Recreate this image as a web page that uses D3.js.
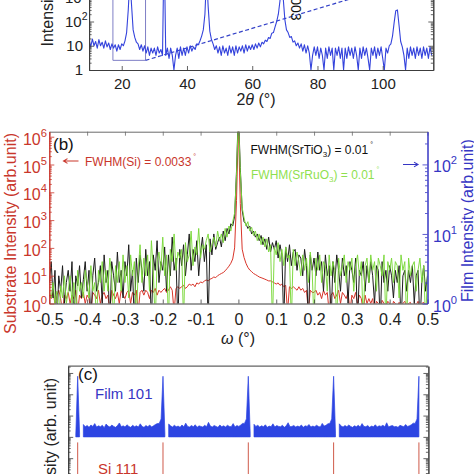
<!DOCTYPE html>
<html>
<head>
<meta charset="utf-8">
<script src="https://cdn.jsdelivr.net/npm/d3@7/dist/d3.min.js"></script>
<style>
  html, body { margin: 0; padding: 0; background: #ffffff; }
  svg { display: block; }
  text { font-family: "Liberation Sans", Arial, Helvetica, sans-serif; }
</style>
</head>
<body>
<script>
// ===================== DATA =====================
// ---- Panel (a): 2theta scan, sampled every 0.5 deg from 10 to 115 ----
const aTwoTheta = d3.range(10, 115.001, 0.5);
const aIntensity = [
  17, 9, 19, 10, 15, 8, 18, 10, 14, 8,
  16, 9, 13, 7, 12, 8, 11, 6, 11, 7,
  12, 10, 16, 35, 300, 6000, 500, 45, 22, 14,
  12, 7, 11, 6, 10, 5, 9, 4, 8, 5,
  8, 4, 9, 5, 7, 4, 200000, 4, 8, 3,
  8, 4, 1, 4, 8, 3, 9, 4, 8, 4,
  9, 5, 10, 6, 9, 7, 12, 11, 16, 25,
  45, 200, 8000, 400, 40, 18, 12, 7, 10, 5,
  9, 4, 10, 5, 8, 4, 10, 5, 9, 4,
  10, 5, 9, 6, 10, 5, 11, 6, 10, 7,
  11, 7, 12, 8, 13, 9, 14, 12, 17, 15,
  22, 20, 33, 35, 60, 100, 200, 700, 5000, 900,
  120, 45, 35, 22, 24, 14, 16, 10, 13, 8,
  12, 6, 11, 5, 10, 5, 1, 4, 9, 4,
  9, 3, 8, 4, 1, 8, 3, 9, 4, 8,
  1, 8, 4, 9, 3, 8, 1, 8, 3, 9,
  4, 8, 3, 9, 4, 1, 8, 3, 9, 4,
  8, 3, 1, 8, 4, 9, 3, 8, 4, 9,
  3, 1, 8, 5, 10, 12, 25, 90, 280, 300,
  70, 15, 9, 4, 1, 8, 3, 9, 4, 8,
  3, 9, 4, 8, 3, 9, 4, 8, 3, 9, 4
];
const aXTicks = [20, 40, 60, 80, 100];
const aYTickExp = [0, 1, 2, 3];
const aInsetBoxX = [17.3, 17.3, 27.3, 27.3];
const aInsetBoxY = [100000, 2.5, 2.5, 100000];
const aDashX = [27.3, 100];
const aDashY = [2.5, 2150];
const aPeakLabel = "003";
const aPeakLabelPos = [71.9, 1000];

// ---- Panel (b): omega rocking curves, sampled every 0.005 deg ----
const bOmega = d3.range(-0.5, 0.5001, 0.005);
const bSi = [
  2, 1.5, 2.5, 1, 2, 3, 1.5, 0.5, 2, 1.5,
  2.5, 1, 2, 1.5, 3, 0.5, 2, 1.5, 2.5, 1,
  2, 1.5, 0.5, 2.5, 2, 1.5, 3, 1, 2, 2.5,
  1.5, 2, 0.5, 3, 2, 1.5, 2.5, 1, 3, 2,
  1.5, 2.5, 3, 1, 2.5, 2, 3, 0.5, 2.5, 3,
  2, 3, 2.5, 1.5, 3, 2.5, 3.5, 2, 3, 2.5,
  3, 3.5, 2.5, 3, 4, 3, 0.5, 3.5, 4, 3.5,
  4, 4.5, 3.5, 4, 5, 4.5, 5, 4, 5.5, 5,
  6, 5.5, 6.5, 7, 6.5, 7.5, 8, 9, 8.5, 10,
  11, 12, 13, 15, 18, 22, 28, 40, 100, 5000,
  3000000,
  4000, 90, 45, 28, 20, 16, 14, 12, 11, 10,
  9, 8.5, 8, 7.5, 7, 6.5, 6.5, 6, 5.5,
  5, 5.5, 4.5, 5, 4, 4.5, 0.5, 4, 3.5, 4,
  3.5, 3, 4, 3, 3.5, 2.5, 3, 0.5, 3, 2.5,
  2.5, 3, 2, 2.5, 1.5, 3, 2, 2.5, 0.5, 2,
  2.5, 1.5, 2, 3, 1, 2.5, 2, 1.5, 2.5, 0.5,
  2, 1.5, 2.5, 1, 2, 1.5, 0.5, 2, 1, 1.5,
  1, 1.5, 0.5, 1.2, 1, 0.5, 1.3, 1, 0.8, 1.2,
  1, 0.5, 1.2, 1, 0.8, 1.1, 0.5, 1, 1.2, 0.8,
  1, 1.1, 0.5, 1, 0.9, 1.2, 0.5, 1, 1.1, 0.8, 1
];
const bSrTiO3 = [
  2, 4, 1.2, 3, 0.5, 2.5, 1.5, 3.5, 1, 2,
  3, 1.5, 4, 0.5, 2.5, 1.8, 3.5, 1.2, 2.2, 4,
  1.5, 3, 0.5, 2.5, 4.5, 1.5, 2, 3.5, 1, 5,
  2, 3, 0.5, 4, 2.5, 1.5, 5.5, 2, 3, 1.2,
  4, 2.5, 7, 1.5, 3, 0.5, 4.5, 2, 5, 3,
  1.5, 6, 2.5, 4, 0.5, 5, 3, 8, 2, 4,
  3, 6.5, 1.5, 5, 2.5, 9, 3, 4.5, 0.5, 6,
  3.5, 7, 2.5, 5, 10, 3, 6, 4, 8, 2.5,
  5.5, 9, 4, 7, 0.5, 8.5, 5, 10, 6, 7.5,
  9, 6.5, 11, 8, 12, 10, 14, 13, 18, 80,
  600,
  90, 22, 15, 14, 12, 13, 10, 11, 9, 10,
  8, 9.5, 7, 8.5, 6, 9, 5.5, 7.5, 6,
  8, 4.5, 7, 5, 0.5, 6.5, 4, 7, 3.5, 5.5,
  6, 3, 5, 4.5, 2.5, 6, 3.5, 0.5, 5, 3,
  4.5, 2.5, 5.5, 3, 4, 1.5, 5, 2.5, 3.5, 0.5,
  4, 2, 5, 3, 1.5, 4.5, 2.5, 3.5, 1, 4,
  3, 2, 4.5, 0.5, 3, 2.5, 4, 1.5, 3.5, 2,
  4, 2.5, 1, 3.5, 3, 0.5, 4, 2, 3, 1.5,
  3.5, 2.5, 1.2, 3, 2, 3.5, 0.5, 2.5, 3, 1.5,
  3, 2, 3.5, 1, 2.5, 3, 0.5, 2, 3.5, 1.5, 2.5
];
const bSrRuO3 = [
  1.5, 1.2, 2, 1, 1.5, 0.5, 1.8, 1.2, 2.5, 1,
  1.5, 2.5, 1, 2, 0.5, 3, 1.5, 2, 1.2, 3,
  2, 1.2, 3.5, 1.5, 2, 0.5, 3, 2, 4, 1.5,
  3, 1.5, 4.5, 2.5, 0.5, 3.5, 2, 4, 1.5, 5,
  2, 3.5, 1.2, 5, 2.5, 4, 0.5, 3, 7, 2,
  4.5, 2.5, 5, 1.5, 8, 3, 0.5, 4, 5.5, 3,
  9, 2.5, 5, 0.5, 6, 4, 10, 3, 5.5, 4.5,
  6, 0.5, 7.5, 4, 5, 11, 3.5, 6.5, 5, 12,
  4.5, 7, 6, 8, 10, 5.5, 7, 9, 6.5, 11,
  8, 10, 7.5, 12, 9, 13, 11, 15, 20, 70,
  500,
  80, 24, 17, 13, 15, 11, 12.5, 9.5, 11, 8,
  10, 7, 9, 6.5, 8.5, 5.5, 7, 0.5, 6.5,
  5, 7.5, 4, 6, 3.5, 6.5, 4.5, 5, 0.5, 6,
  3.5, 5.5, 4, 2.5, 5, 3, 4.5, 2, 5.5, 3,
  0.5, 4.5, 3, 5, 2, 4, 3.5, 1.5, 5, 2.5,
  4, 3, 0.5, 4.5, 2.5, 3.5, 5, 2, 4, 3,
  4.5, 1.5, 3.5, 5, 2.5, 4, 0.5, 3.5, 4.5, 2,
  5, 3, 4, 1.5, 4.5, 3.5, 2.5, 5, 0.5, 4,
  3, 4.5, 2, 4, 3.5, 1.2, 5, 3, 4, 0.5,
  4.5, 2.5, 3.5, 4, 1.5, 3, 4.5, 2, 3.5, 0.5, 3
];
const bXTicks = [-0.5, -0.4, -0.3, -0.2, -0.1, 0, 0.1, 0.2, 0.3, 0.4, 0.5];
const bLeftExp = [0, 1, 2, 3, 4, 5, 6];
const bRightExp = [0, 1, 2];

// ---- Panel (c): phi scans, sampled every 2 deg ----
const cPhi = d3.range(-2, 361, 2);
const cFilm101 = [
  120, 70000, 150, null,
  380, 300, 340, 280, 360, 310, 420, 290, 330, 300, 350, 270, 400, 320, 290, 360, 310, 280, 340, 450,
  300, 330, 290, 370, 310, 280, 350, 300, 330, 290, 410, 310, 280, 340, 300, 360, 290, 330, 380, 420,
  430, 700,
  70000, 150, null,
  400, 330, 290, 350, 300, 320, 280, 360, 300, 440, 310, 290, 340, 300, 370, 280, 330, 310, 290, 350,
  300, 480, 320, 290, 340, 310, 280, 360, 300, 330, 290, 350, 310, 300, 420, 290, 340, 310, 360, 430,
  430, 700,
  70000, 150, null,
  390, 310, 350, 290, 330, 300, 370, 280, 320, 300, 410, 290, 340, 310, 300, 350, 280, 330, 460, 300,
  310, 340, 290, 320, 300, 360, 280, 330, 310, 380, 290, 320, 300, 350, 310, 290, 430, 320, 350, 410,
  430, 700,
  70000, 150, null,
  410, 320, 290, 340, 300, 360, 310, 280, 330, 300, 350, 290, 420, 310, 300, 340, 280, 320, 300, 370,
  290, 330, 310, 350, 300, 460, 290, 320, 340, 300, 310, 280, 350, 320, 300, 380, 310, 330, 370, 440,
  430, 700,
  70000
];
const cFilmFloor = 100;
const cSiPhi = [0, 90, 180, 270, 360];
const cSiPeak = [55, 55, 55, 55, 55];
const cSiFloor = 0.01;

// ===================== STYLE =====================
const AXIS = "#3c3c3c";
const RED = "#c9362b";
const BLUE = "#3636c4";
const GREENTXT = "#8fdf4f";
const GREEN = "#7ad83a";
const BLACKD = "#1c1c1c";
const ABLUE = "#3443dc";

const svg = d3.select("body").append("svg").attr("width", 474).attr("height", 474);
const defs = svg.append("defs");
function clip(id, x0, y0, x1, y1) {
  defs.append("clipPath").attr("id", id).append("rect")
    .attr("x", x0).attr("y", y0).attr("width", x1 - x0).attr("height", y1 - y0);
}
function isMajor(v) { const l = Math.log10(v); return Math.abs(l - Math.round(l)) < 1e-9; }
function styleAxis(g, color) {
  g.selectAll("path.domain").attr("stroke", color).attr("stroke-width", 1);
  g.selectAll(".tick line").attr("stroke", color).attr("stroke-width", 0.8);
}
function logAxis(gen, scale, x, y, color, majorLen, minorLen) {
  const vals = scale.ticks();
  const gMin = svg.append("g").attr("transform", `translate(${x},${y})`)
    .call(gen(scale).tickValues(vals.filter(v => !isMajor(v))).tickSize(-minorLen).tickSizeOuter(0).tickFormat(""));
  styleAxis(gMin, color);
  const gMaj = svg.append("g").attr("transform", `translate(${x},${y})`)
    .call(gen(scale).tickValues(vals.filter(isMajor)).tickSize(-majorLen).tickSizeOuter(0).tickFormat(""));
  styleAxis(gMaj, color);
}
function powLabel(parent, x, y, exp, size, color, anchor, supShift) {
  const t = parent.append("text").attr("x", x).attr("y", y).attr("font-size", size)
    .attr("fill", color).attr("text-anchor", anchor);
  if (exp === 0 && supShift === null) { t.text("1"); return t; }
  if (exp === 1 && supShift === null) { t.text("10"); return t; }
  t.append("tspan").text("10");
  t.append("tspan").attr("font-size", size * 0.7).attr("dy", -(supShift || 8)).text(String(exp));
  return t;
}

// ===================== PANEL (a) =====================
const xA = d3.scaleLinear().domain([10, 115.5]).range([89.1, 433.3]);
const yA = d3.scaleLog().domain([1, 31623]).range([70, 70 - 4.5 * 24.25]);
clip("clipA", 89.1, -120, 433.3, 70);

const gA = svg.append("g");
const gAc = gA.append("g").attr("clip-path", "url(#clipA)");
gAc.append("path")
  .attr("d", d3.line().x(d => xA(d[0])).y(d => yA(d[1]))(aInsetBoxX.map((v, i) => [v, aInsetBoxY[i]])))
  .attr("fill", "none").attr("stroke", "#7f7fc6").attr("stroke-width", 1);
gAc.append("path")
  .attr("d", d3.line().x(d => xA(d[0])).y(d => yA(d[1]))(aDashX.map((v, i) => [v, aDashY[i]])))
  .attr("fill", "none").attr("stroke", "#3442c8").attr("stroke-width", 1.2).attr("stroke-dasharray", "4,2.5");
gAc.append("path")
  .attr("d", d3.line().x((d, i) => xA(aTwoTheta[i])).y(d => yA(d))(aIntensity))
  .attr("fill", "none").attr("stroke", ABLUE).attr("stroke-width", 1.1).attr("stroke-linejoin", "round");

const gAx = svg.append("g").attr("transform", "translate(0,70)")
  .call(d3.axisBottom(xA).tickValues(aXTicks).tickSize(-4).tickSizeOuter(0).tickPadding(8.5).tickFormat(d3.format("d")));
styleAxis(gAx, AXIS);
gAx.selectAll("text").attr("font-size", 15).attr("fill", "#222").attr("font-family", "Liberation Sans, Arial, sans-serif");
logAxis(d3.axisLeft, yA, 89.1, 0, AXIS, 5, 2.5);
logAxis(d3.axisRight, yA, 433.3, 0, AXIS, 5, 2.5);
aYTickExp.forEach(e => {
  const v = Math.pow(10, e);
  if (e === 0) powLabel(gA, 83, yA(v) + 5.3, 0, 15, "#222", "end", null);
  else if (e === 1) powLabel(gA, 83, yA(v) + 5.3, 1, 15, "#222", "end", null);
  else powLabel(gA, 87.5, yA(v) + 5.3, e, 15, "#222", "end", 7);
});
gA.append("text")
  .attr("transform", `translate(${xA(aPeakLabelPos[0])},${yA(aPeakLabelPos[1])}) rotate(90)`)
  .attr("font-size", 14).attr("fill", "#111").attr("text-anchor", "start").text(aPeakLabel);
const aXt = gA.append("text").attr("x", 256).attr("y", 105).attr("font-size", 16)
  .attr("fill", "#222").attr("text-anchor", "middle");
aXt.append("tspan").text("2");
aXt.append("tspan").attr("font-style", "italic").text("θ");
aXt.append("tspan").text(" (°)");
gA.append("text").attr("transform", "translate(53,46.5) rotate(-90)")
  .attr("font-size", 16).attr("fill", "#222").attr("text-anchor", "start").text("Intensity (arb. unit)");

// ===================== PANEL (b) =====================
const xB = d3.scaleLinear().domain([-0.5, 0.5]).range([49.3, 427.5]);
const yBL = d3.scaleLog().domain([1, Math.pow(10, 6.18)]).range([303.5, 131.7]);
const yBR = d3.scaleLog().domain([1, Math.pow(10, 2.47)]).range([303.5, 131.7]);
clip("clipB", 49.3, 131.7, 427.5, 303.5);
const gB = svg.append("g");
const gBc = gB.append("g").attr("clip-path", "url(#clipB)");
gBc.append("path")
  .attr("d", d3.line().x((d, i) => xB(bOmega[i])).y(d => yBL(d))(bSi))
  .attr("fill", "none").attr("stroke", "#d8352a").attr("stroke-width", 1).attr("stroke-linejoin", "round");
gBc.append("path")
  .attr("d", d3.line().x((d, i) => xB(bOmega[i])).y(d => yBR(d))(bSrTiO3))
  .attr("fill", "none").attr("stroke", BLACKD).attr("stroke-width", 1).attr("stroke-linejoin", "round");
gBc.append("path")
  .attr("d", d3.line().x((d, i) => xB(bOmega[i])).y(d => yBR(d))(bSrRuO3))
  .attr("fill", "none").attr("stroke", GREEN).attr("stroke-width", 1).attr("stroke-linejoin", "round").attr("opacity", 0.95);

const gBx = svg.append("g").attr("transform", "translate(0,303.5)")
  .call(d3.axisBottom(xB).tickValues(bXTicks).tickSize(-4).tickSizeOuter(0).tickPadding(10.1)
    .tickFormat(d => d === 0 ? "0" : d.toFixed(1)));
styleAxis(gBx, AXIS);
gBx.selectAll("text").attr("font-size", 16).attr("fill", "#222").attr("font-family", "Liberation Sans, Arial, sans-serif");
const gBt = svg.append("g").attr("transform", "translate(0,131.7)")
  .call(d3.axisTop(xB).tickValues(bXTicks).tickSize(-4).tickSizeOuter(0).tickFormat(""));
styleAxis(gBt, "#6a6a6a");
logAxis(d3.axisLeft, yBL, 49.3, 0, RED, 5, 2.5);
logAxis(d3.axisRight, yBR, 427.5, 0, BLUE, 5, 2.5);
bLeftExp.forEach(e => powLabel(gB, 47, yBL(Math.pow(10, e)) + 8, e, 16, RED, "end", 8));
bRightExp.forEach(e => powLabel(gB, 433, yBR(Math.pow(10, e)) + 8, e, 16, BLUE, "start", 8));
gB.append("text").attr("transform", "translate(16,334) rotate(-90)")
  .attr("font-size", 16).attr("fill", RED).attr("text-anchor", "start").text("Substrate Intensity (arb.unit)");
gB.append("text").attr("transform", "translate(473,302) rotate(-90)")
  .attr("font-size", 16).attr("fill", BLUE).attr("text-anchor", "start").text("Film Intensity (arb.unit)");
const bXt = gB.append("text").attr("x", 238).attr("y", 344).attr("font-size", 16)
  .attr("fill", "#222").attr("text-anchor", "middle");
bXt.append("tspan").attr("font-style", "italic").text("ω");
bXt.append("tspan").text(" (°)");
gB.append("text").attr("x", 53).attr("y", 150).attr("font-size", 17).attr("fill", "#111").text("(b)");
gB.append("path").attr("d", "M78.5,161 L63.5,161 M67.5,158.6 L63.5,161 L67.5,163.4")
  .attr("stroke", RED).attr("stroke-width", 1.1).attr("fill", "none");
const t1 = gB.append("text").attr("x", 85).attr("y", 166).attr("font-size", 12).attr("fill", RED);
t1.append("tspan").text("FWHM(Si) = 0.0033");
t1.append("tspan").attr("font-size", 7).attr("dy", -7).attr("dx", 2).text("°");
const t2 = gB.append("text").attr("x", 250.5).attr("y", 154).attr("font-size", 12).attr("fill", "#111");
t2.append("tspan").text("FWHM(SrTiO");
t2.append("tspan").attr("font-size", 8).attr("dy", 3).text("3");
t2.append("tspan").attr("dy", -3).text(") = 0.01");
t2.append("tspan").attr("font-size", 7).attr("dy", -7).attr("dx", 2).text("°");
const t3 = gB.append("text").attr("x", 251).attr("y", 179).attr("font-size", 12).attr("fill", GREENTXT);
t3.append("tspan").text("FWHM(SrRuO");
t3.append("tspan").attr("font-size", 8).attr("dy", 3).text("3");
t3.append("tspan").attr("dy", -3).text(") = 0.01");
t3.append("tspan").attr("font-size", 7).attr("dy", -7).attr("dx", 2).text("°");
gB.append("path").attr("d", "M403,164.5 L418,164.5 M414,162.1 L418,164.5 L414,166.9")
  .attr("stroke", BLUE).attr("stroke-width", 1.1).attr("fill", "none");

// ===================== PANEL (c) =====================
const xC = d3.scaleLinear().domain([-10, 370]).range([68.2, 428.4]);
const yC = d3.scaleLog().domain([0.01, 210000]).range([522.1, 366.1]);
clip("clipC", 68.2, 366.1, 428.4, 474);
const gC = svg.append("g");
const gCc = gC.append("g").attr("clip-path", "url(#clipC)");
const filmPts = cFilm101.map((v, i) => [cPhi[i], v]);
gCc.append("path")
  .attr("d", d3.area().defined(d => d[1] !== null).x(d => xC(d[0])).y0(yC(cFilmFloor)).y1(d => yC(d[1]))(filmPts))
  .attr("fill", "#2d45e2").attr("stroke", "#2d45e2").attr("stroke-width", 0.7).attr("stroke-linejoin", "round");
cSiPhi.forEach((p, i) => {
  gCc.append("line").attr("x1", xC(p)).attr("x2", xC(p))
    .attr("y1", yC(cSiFloor)).attr("y2", yC(cSiPeak[i]))
    .attr("stroke", "#cf5a4a").attr("stroke-width", 1);
});
gC.append("line").attr("x1", 68.2).attr("x2", 428.4).attr("y1", 366.1).attr("y2", 366.1)
  .attr("stroke", AXIS).attr("stroke-width", 1);
logAxis(d3.axisLeft, yC, 68.2, 0, AXIS, 5, 2.5);
logAxis(d3.axisRight, yC, 428.4, 0, AXIS, 5, 2.5);
gC.append("text").attr("x", 78).attr("y", 380).attr("font-size", 17).attr("fill", "#111").text("(c)");
gC.append("text").attr("x", 95).attr("y", 398.5).attr("font-size", 15).attr("fill", BLUE).text("Film 101");
gC.append("text").attr("x", 98).attr("y", 474).attr("font-size", 15).attr("fill", RED).text("Si 111");
gC.append("text").attr("transform", "translate(56,378) rotate(-90)")
  .attr("font-size", 16).attr("fill", "#222").attr("text-anchor", "end").text("Intensity (arb. unit)");
</script>
</body>
</html>
